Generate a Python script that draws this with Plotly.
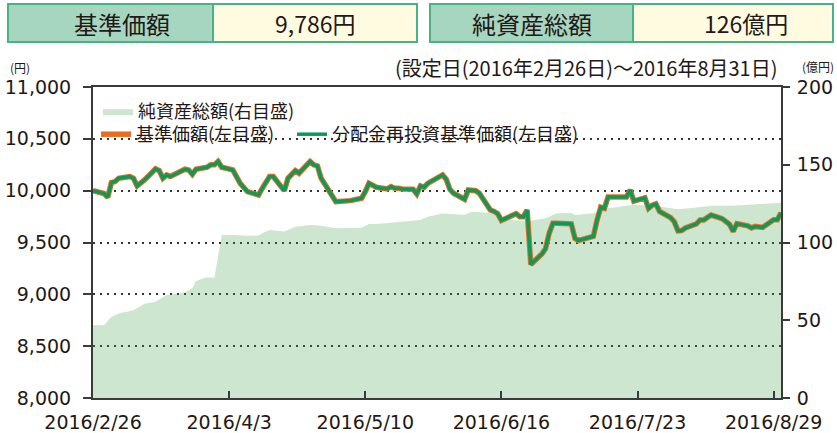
import plotly.graph_objects as go

# ---------------- data ----------------
nav_dates = [
    "2016-02-26", "2016-02-29", "2016-03-01", "2016-03-02", "2016-03-03", "2016-03-04",
    "2016-03-07", "2016-03-08", "2016-03-09", "2016-03-11", "2016-03-14", "2016-03-15",
    "2016-03-16", "2016-03-17", "2016-03-18", "2016-03-22", "2016-03-23", "2016-03-24",
    "2016-03-25", "2016-03-28", "2016-03-29", "2016-03-30", "2016-03-31", "2016-04-01",
    "2016-04-04", "2016-04-06", "2016-04-08", "2016-04-11", "2016-04-12", "2016-04-14",
    "2016-04-15", "2016-04-18", "2016-04-19", "2016-04-21", "2016-04-22", "2016-04-25",
    "2016-04-26", "2016-04-27", "2016-04-28", "2016-05-02", "2016-05-06", "2016-05-09",
    "2016-05-10", "2016-05-11", "2016-05-13", "2016-05-16", "2016-05-17", "2016-05-18",
    "2016-05-19", "2016-05-20", "2016-05-23", "2016-05-24", "2016-05-25", "2016-05-26",
    "2016-05-27", "2016-05-31", "2016-06-01", "2016-06-02", "2016-06-03", "2016-06-06",
    "2016-06-07", "2016-06-08", "2016-06-09", "2016-06-10", "2016-06-13", "2016-06-14",
    "2016-06-15", "2016-06-16", "2016-06-20", "2016-06-21", "2016-06-22", "2016-06-23",
    "2016-06-24", "2016-06-27", "2016-06-28", "2016-06-29", "2016-06-30", "2016-07-01",
    "2016-07-04", "2016-07-05", "2016-07-06", "2016-07-07", "2016-07-08", "2016-07-11",
    "2016-07-12", "2016-07-13", "2016-07-14", "2016-07-15", "2016-07-19", "2016-07-20",
    "2016-07-21", "2016-07-22", "2016-07-25", "2016-07-26", "2016-07-27", "2016-07-28",
    "2016-07-29", "2016-08-01", "2016-08-02", "2016-08-03", "2016-08-04", "2016-08-05",
    "2016-08-08", "2016-08-09", "2016-08-10", "2016-08-12", "2016-08-15", "2016-08-16",
    "2016-08-17", "2016-08-18", "2016-08-19", "2016-08-22", "2016-08-23", "2016-08-24",
    "2016-08-25", "2016-08-26", "2016-08-29", "2016-08-30", "2016-08-31",
]
nav_values = [
    10000, 9973, 9936, 10078, 10088, 10120,
    10136, 10120, 10046, 10103, 10210, 10194,
    10120, 10152, 10136, 10207, 10200, 10158,
    10207, 10226, 10249, 10249, 10281, 10226,
    10200, 10071, 9990, 9958, 10023, 10136,
    10136, 10000, 10120, 10194, 10168, 10281,
    10249, 10239, 10120, 9894, 9904, 9927,
    9990, 10071, 10033, 10017, 10039, 10023,
    10023, 10017, 10013, 9968, 10046, 10033,
    10071, 10152, 10110, 10013, 9975, 9917,
    10007, 10005, 10000, 9975, 9813, 9800,
    9778, 9713, 9778, 9749, 9749, 9813,
    9288, 9390, 9440, 9590, 9685, 9685,
    9685, 9680, 9540, 9520, 9530, 9560,
    9715, 9840, 9830, 9940, 9940, 9940,
    10007, 9900, 9930, 9830, 9860, 9872,
    9800, 9740, 9700, 9612, 9616, 9640,
    9680, 9718, 9718, 9765, 9730, 9700,
    9676, 9607, 9682, 9660, 9641, 9655,
    9650, 9646, 9720, 9720, 9786,
]
# 分配金再投資基準価額 (no distributions -> same as 基準価額)
reinv_values = list(nav_values)

asset_dates = [
    "2016-02-26", "2016-02-29", "2016-03-02", "2016-03-04", "2016-03-08", "2016-03-11",
    "2016-03-14", "2016-03-17", "2016-03-22", "2016-03-24", "2016-03-25", "2016-03-28",
    "2016-03-30", "2016-04-01", "2016-04-04", "2016-04-08", "2016-04-11", "2016-04-12",
    "2016-04-14", "2016-04-18", "2016-04-21", "2016-04-25", "2016-04-28", "2016-05-02",
    "2016-05-09", "2016-05-11", "2016-05-13", "2016-05-17", "2016-05-23", "2016-05-25",
    "2016-05-27", "2016-05-31", "2016-06-06", "2016-06-08", "2016-06-13", "2016-06-15",
    "2016-06-17", "2016-06-24", "2016-06-28", "2016-07-01", "2016-07-05", "2016-07-06",
    "2016-07-11", "2016-07-15", "2016-07-22", "2016-07-28", "2016-08-03", "2016-08-08",
    "2016-08-12", "2016-08-18", "2016-08-23", "2016-08-26", "2016-08-31",
]
asset_values = [
    46.8, 46.8, 52.2, 54.4, 56.5, 60.6,
    61.9, 66.2, 67.8, 70.5, 75.2, 77.6,
    77.3, 104.8, 104.8, 104.3, 104.5, 106.0,
    108.0, 107.0, 110.2, 111.3, 110.8, 109.1,
    109.5, 111.9, 111.9, 112.8, 114.0, 114.5,
    116.6, 118.6, 117.8, 119.8, 119.2, 116.8,
    114.5, 114.0, 115.6, 118.8, 119.0, 117.7,
    118.8, 122.0, 124.2, 123.5, 121.4, 122.5,
    123.7, 123.6, 124.2, 124.6, 125.6,
]

x_tick_vals = ["2016-02-26", "2016-04-03", "2016-05-10", "2016-06-16", "2016-07-23", "2016-08-29"]
x_tick_text = ["2016/2/26", "2016/4/3", "2016/5/10", "2016/6/16", "2016/7/23", "2016/8/29"]
left_ticks = [8000, 8500, 9000, 9500, 10000, 10500, 11000]
right_ticks = [0, 50, 100, 150, 200]

header_labels = ["基準価額", "純資産総額"]
header_values = ["9,786円", "126億円"]

# ---------------- layout helpers ----------------
W_PX, H_PX = 837, 433
L, R, T, B = 93, 781, 87, 398
PW, PH = R - L, B - T


def px(x):
    return (x - L) / PW


def py(y):
    return (B - y) / PH


FONT = "Noto Sans CJK JP"
NUMFONT = "DejaVu Sans, Noto Sans CJK JP"
TXT = "#231815"
AXIS = "#3a3a3a"
ORANGE = "#ec6d21"
GREEN = "#0b9a5a"

fig = go.Figure()

fig.add_trace(go.Scatter(
    x=asset_dates, y=asset_values, name="純資産総額(右目盛)",
    mode="lines", line=dict(width=0, color="rgba(55,155,67,0.25)"),
    fill="tozeroy", fillcolor="rgba(55,155,67,0.25)",
    yaxis="y", legend="legend",
))
fig.add_trace(go.Scatter(
    x=nav_dates, y=nav_values, name="基準価額(左目盛)",
    mode="lines", line=dict(width=5.5, color=ORANGE),
    yaxis="y2", legend="legend2",
))
fig.add_trace(go.Scatter(
    x=nav_dates, y=reinv_values, name="分配金再投資基準価額(左目盛)",
    mode="lines", line=dict(width=3.5, color=GREEN),
    yaxis="y2", legend="legend3",
))

shapes = []
annotations = []
boxes = [((8, 213), (213, 417), 122, 315), ((430, 633), (633, 833), 532, 746)]
for (lab, val, lc, vc), ltxt, vtxt in zip(boxes, header_labels, header_values):
    shapes.append(dict(type="rect", xref="paper", yref="paper",
                       x0=px(lab[0]), x1=px(lab[1]), y0=py(42), y1=py(4),
                       fillcolor="#a7d6c0", line=dict(color="#45b382", width=2), layer="above"))
    shapes.append(dict(type="rect", xref="paper", yref="paper",
                       x0=px(val[0]), x1=px(val[1]), y0=py(42), y1=py(4),
                       fillcolor="#fffbe1", line=dict(color="#45b382", width=2), layer="above"))
    annotations.append(dict(xref="paper", yref="paper", x=px(lc), y=py(23),
                            text=ltxt, showarrow=False, xanchor="center", yanchor="middle",
                            font=dict(family=FONT, size=24, color=TXT)))
    annotations.append(dict(xref="paper", yref="paper", x=px(vc), y=py(23),
                            text=vtxt, showarrow=False, xanchor="center", yanchor="middle",
                            font=dict(family=FONT, size=23, color=TXT)))

annotations += [
    dict(xref="paper", yref="paper", x=px(8), y=py(67), text="(円)", showarrow=False,
         xanchor="left", yanchor="middle", font=dict(family=FONT, size=12, color=TXT)),
    dict(xref="paper", yref="paper", x=px(836), y=py(66), text="(億円)", showarrow=False,
         xanchor="right", yanchor="middle", font=dict(family=FONT, size=12, color=TXT)),
    dict(xref="paper", yref="paper", x=px(779), y=py(68),
         text="(設定日(2016年2月26日)～2016年8月31日)", showarrow=False,
         xanchor="right", yanchor="middle", font=dict(family=FONT, size=20, color=TXT)),
]

tickfont = dict(family=NUMFONT, size=19, color=TXT)
legfont = dict(family=FONT, size=18, color=TXT)

fig.update_layout(
    width=W_PX, height=H_PX,
    margin=dict(l=L, r=W_PX - R, t=T, b=H_PX - B, pad=0, autoexpand=False),
    paper_bgcolor="white", plot_bgcolor="white",
    font=dict(family=FONT, color=TXT),
    showlegend=True,
    xaxis=dict(
        type="date", range=["2016-02-26", "2016-08-31"],
        tickvals=x_tick_vals, ticktext=x_tick_text,
        ticks="inside", ticklen=7, tickwidth=1.5, tickcolor=AXIS,
        showline=True, linecolor=AXIS, linewidth=2, mirror=True,
        showgrid=False, zeroline=False, ticklabelstandoff=6, automargin=False,
        tickfont=tickfont,
    ),
    yaxis=dict(
        side="right", range=[0, 200], tickvals=right_ticks,
        ticks="outside", ticklen=7, tickwidth=1.5, tickcolor=AXIS,
        showline=True, linecolor=AXIS, linewidth=2,
        showgrid=False, zeroline=False, ticklabelstandoff=3, automargin=False,
        tickfont=tickfont,
    ),
    yaxis2=dict(
        side="left", overlaying="y", range=[8000, 11000], tickvals=left_ticks,
        tickformat=",d",
        ticks="outside", ticklen=8, tickwidth=1.5, tickcolor=AXIS,
        showline=True, linecolor=AXIS, linewidth=2,
        showgrid=True, gridcolor="#333333", gridwidth=1.5, griddash="2px,5px",
        zeroline=False, ticklabelstandoff=8, automargin=False,
        tickfont=tickfont,
    ),
    legend=dict(x=px(98), y=py(93), xanchor="left", yanchor="top",
                bgcolor="rgba(0,0,0,0)", font=legfont, tracegroupgap=0,
                itemclick=False, itemdoubleclick=False),
    legend2=dict(x=px(96), y=py(116), xanchor="left", yanchor="top",
                 bgcolor="rgba(0,0,0,0)", font=legfont,
                 itemclick=False, itemdoubleclick=False),
    legend3=dict(x=px(292), y=py(116), xanchor="left", yanchor="top",
                 bgcolor="rgba(0,0,0,0)", font=legfont,
                 itemclick=False, itemdoubleclick=False),
    shapes=shapes,
    annotations=annotations,
)

fig.write_html("out.html")
